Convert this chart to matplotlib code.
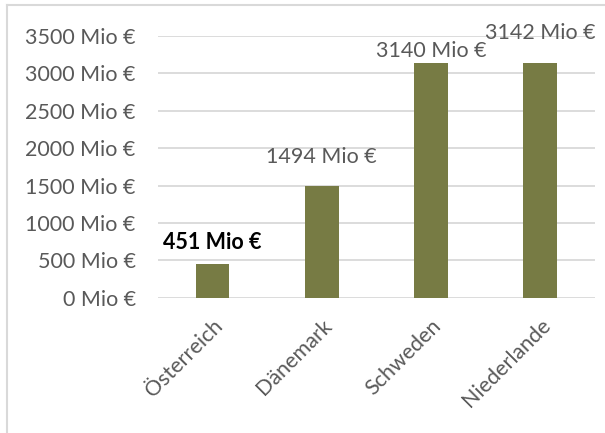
import matplotlib
matplotlib.use("Agg")
import matplotlib.pyplot as plt
from matplotlib.lines import Line2D

countries = ["Österreich", "Dänemark", "Schweden", "Niederlande"]
values = [451, 1494, 3140, 3142]
label_bold = [True, False, False, False]
# vertical offset of each value label above its bar (points)
label_offsets = [8, 14, 1, 14]
y_ticks = [0, 500, 1000, 1500, 2000, 2500, 3000, 3500]

text_color = "#595959"
bar_color = "#777B44"
grid_color = "#D9D9D9"

plt.rcParams["font.family"] = ["Lato", "DejaVu Sans"]

fig = plt.figure(figsize=(6.05, 4.33), dpi=100)
ax = fig.add_axes([0.261, 0.312, 0.722, 0.605])

x = list(range(len(countries)))
ax.bar(x, values, width=0.31, color=bar_color, zorder=3)

ax.set_xlim(-0.5, len(countries) - 0.5)
ax.set_ylim(0, 3500)
ax.set_yticks(y_ticks)
ax.set_yticklabels([f"{v} Mio €" for v in y_ticks])
ax.yaxis.grid(True, color=grid_color, linewidth=1.3, zorder=0)
ax.tick_params(axis="y", length=0, pad=16, labelsize=15.5, labelcolor=text_color)
ax.tick_params(axis="x", length=0, pad=6)
ax.set_xticks(x)
ax.set_xticklabels(countries, rotation=45, ha="right", va="top",
                   rotation_mode="anchor", fontsize=15.5, color=text_color)
for lab in ax.get_xticklabels():
    lab.set_y(-0.035)
    lab.set_x(-0.03)

for s in ax.spines.values():
    s.set_visible(False)

for xi, v, bold, off in zip(x, values, label_bold, label_offsets):
    ax.annotate(f"{v} Mio €", (xi, v), xytext=(0, off), textcoords="offset points",
                ha="center", va="bottom", fontsize=15.5,
                fontweight="bold" if bold else "normal",
                color="black" if bold else text_color, clip_on=False)

# outer chart frame (left and top edges)
fig.add_artist(Line2D([7 / 605, 7 / 605], [0, 1 - 5 / 433], transform=fig.transFigure,
                      color=grid_color, linewidth=1.5))
fig.add_artist(Line2D([7 / 605, 1], [1 - 5 / 433, 1 - 5 / 433], transform=fig.transFigure,
                      color=grid_color, linewidth=1.5))

fig.savefig("out.png", dpi=100)
